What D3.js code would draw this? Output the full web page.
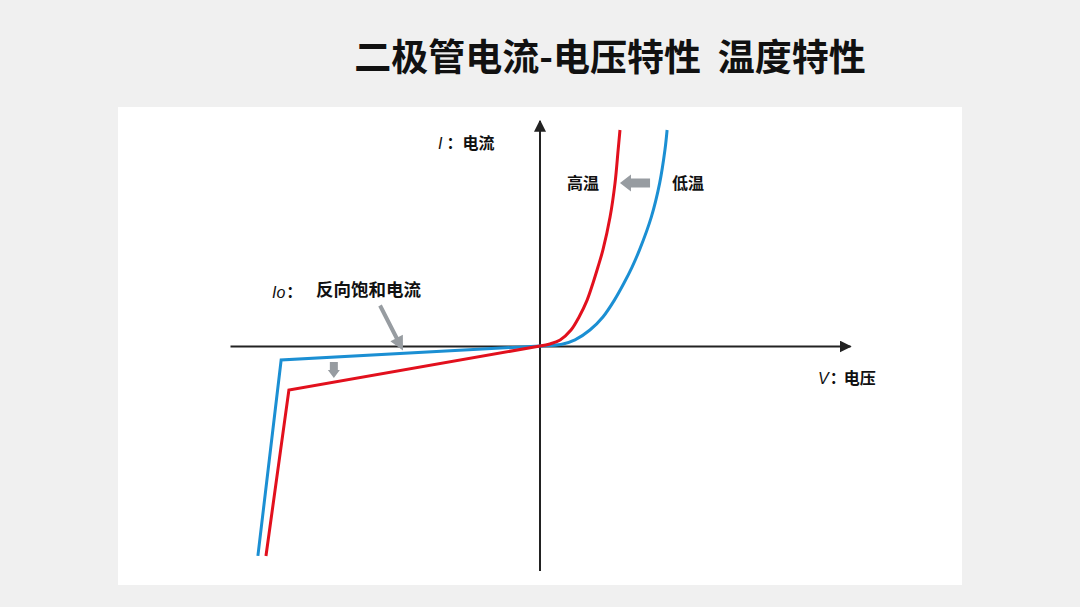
<!DOCTYPE html>
<html>
<head>
<meta charset="utf-8">
<script src="https://cdn.jsdelivr.net/npm/d3@7"></script>
<style>
  html, body { margin: 0; padding: 0; background: #f0f0f0; }
  svg { display: block; }
  text { font-family: "Noto Sans CJK SC", "Noto Sans", sans-serif; fill: #111; white-space: pre; }
  .latin { font-family: "Liberation Sans", "DejaVu Sans", sans-serif; font-style: italic; }
</style>
</head>
<body>
<div id="chart"></div>
<script>
// I-V curves (V, I in arbitrary units, origin = 0,0)
const lowTempReverse = [[-0.91, -0.933], [-0.835, -0.062], [0, 0]];
const lowTempForward = [[0, 0], [0.032, 0.002], [0.074, 0.009], [0.113, 0.027], [0.161, 0.071],
                        [0.203, 0.129], [0.24, 0.204], [0.271, 0.28], [0.297, 0.351], [0.321, 0.427],
                        [0.359, 0.573], [0.386, 0.724], [0.403, 0.871], [0.41, 0.96]];
const highTempReverse = [[-0.884, -0.933], [-0.81, -0.196], [0, 0]];
const highTempForward = [[0, 0], [0.032, 0.009], [0.065, 0.027], [0.1, 0.071], [0.126, 0.129],
                         [0.152, 0.204], [0.171, 0.28], [0.187, 0.351], [0.203, 0.427],
                         [0.226, 0.573], [0.242, 0.724], [0.252, 0.871], [0.258, 0.96]];

const title = "二极管电流-电压特性  温度特性";
const labels = {
  current: "电流",
  voltage: "电压",
  high: "高温",
  low: "低温",
  saturation: "反向饱和电流"
};

const W = 1080, H = 607;
const colors = { low: "#1b8fd3", high: "#e2101d", arrow: "#979ca1", axis: "#222" };

const svg = d3.select("#chart").append("svg")
  .attr("width", W)
  .attr("height", H);

// white panel
svg.append("rect")
  .attr("x", 118).attr("y", 107)
  .attr("width", 844).attr("height", 478)
  .attr("fill", "#fff");

svg.append("text")
  .attr("x", 610).attr("y", 71)
  .attr("text-anchor", "middle")
  .attr("font-size", 37)
  .attr("font-weight", 700)
  .text(title);

// scales
const xScale = d3.scaleLinear().domain([-1, 1]).range([230, 850]);
const yScale = d3.scaleLinear().domain([-1, 1]).range([571, 121]);

const defs = svg.append("defs");
defs.append("marker")
  .attr("id", "axis-head")
  .attr("viewBox", "0 0 10 10")
  .attr("refX", 9).attr("refY", 5)
  .attr("markerWidth", 6).attr("markerHeight", 6)
  .attr("markerUnits", "strokeWidth")
  .attr("orient", "auto")
  .append("path")
  .attr("d", "M0,0 L10,5 L0,10 Z")
  .attr("fill", colors.axis);

// axes (no ticks, just the lines)
const xAxis = d3.axisBottom(xScale).tickValues([]).tickSizeOuter(0);
const yAxis = d3.axisLeft(yScale).tickValues([]).tickSizeOuter(0);

svg.append("g")
  .attr("class", "x-axis")
  .attr("transform", `translate(0,${yScale(0)})`)
  .call(xAxis)
  .select(".domain")
  .attr("stroke", colors.axis)
  .attr("stroke-width", 2)
  .attr("marker-end", "url(#axis-head)");

svg.append("g")
  .attr("class", "y-axis")
  .attr("transform", `translate(${xScale(0)},0)`)
  .call(yAxis)
  .select(".domain")
  .attr("d", `M0,${yScale(-1)}V${yScale(1)}`)
  .attr("stroke", colors.axis)
  .attr("stroke-width", 2)
  .attr("marker-end", "url(#axis-head)");

// curves
const straight = d3.line().x(d => xScale(d[0])).y(d => yScale(d[1]));
const smooth = d3.line().x(d => xScale(d[0])).y(d => yScale(d[1])).curve(d3.curveCatmullRom.alpha(0.5));

const series = [
  { rev: lowTempReverse, fwd: lowTempForward, color: colors.low },
  { rev: highTempReverse, fwd: highTempForward, color: colors.high }
];

series.forEach(s => {
  svg.append("path").attr("d", straight(s.rev))
    .attr("fill", "none").attr("stroke", s.color).attr("stroke-width", 3)
    .attr("stroke-linejoin", "miter");
  svg.append("path").attr("d", smooth(s.fwd))
    .attr("fill", "none").attr("stroke", s.color).attr("stroke-width", 3);
});

// gray block arrow helper: from (x1,y1) to tip (x2,y2), in pixels
function blockArrow(x1, y1, x2, y2, shaft, head, headLen) {
  const len = Math.hypot(x2 - x1, y2 - y1);
  const ang = Math.atan2(y2 - y1, x2 - x1) * 180 / Math.PI;
  const b = len - headLen;
  const p = [
    [0, -shaft / 2], [b, -shaft / 2], [b, -head / 2], [len, 0],
    [b, head / 2], [b, shaft / 2], [0, shaft / 2]
  ];
  svg.append("path")
    .attr("d", "M" + p.map(q => q.join(",")).join("L") + "Z")
    .attr("fill", colors.arrow)
    .attr("transform", `translate(${x1},${y1}) rotate(${ang})`);
}

// temperature shift arrow (low -> high)
blockArrow(xScale(0.355), yScale(0.724), xScale(0.258), yScale(0.724), 9, 17, 11);
// reverse current shift arrow (down)
blockArrow(xScale(-0.665), yScale(-0.071), xScale(-0.665), yScale(-0.142), 8, 12, 8);
// pointer to reverse saturation current
blockArrow(xScale(-0.516), yScale(0.18), xScale(-0.442), yScale(-0.02), 4, 14, 14);

// labels
const fs = 16;
const iLabel = svg.append("text").attr("x", 438).attr("y", 149).attr("font-size", fs);
iLabel.append("tspan").attr("class", "latin").text("I");
iLabel.append("tspan").attr("dx", 4).attr("font-weight", 700).text("：");
iLabel.append("tspan").attr("dx", 0).attr("font-weight", 700).text(labels.current);

svg.append("text").attr("x", 567).attr("y", 189).attr("font-size", fs).attr("font-weight", 700).text(labels.high);
svg.append("text").attr("x", 672).attr("y", 189).attr("font-size", fs).attr("font-weight", 700).text(labels.low);

const ioLabel = svg.append("text").attr("x", 272).attr("y", 298).attr("font-size", fs);
ioLabel.append("tspan").attr("class", "latin").text("Io");
ioLabel.append("tspan").attr("dx", 1).attr("font-weight", 700).text("：");
svg.append("text").attr("x", 316).attr("y", 296).attr("font-size", 17.5).attr("font-weight", 700).text(labels.saturation);

const vLabel = svg.append("text").attr("x", 818).attr("y", 384).attr("font-size", fs);
vLabel.append("tspan").attr("class", "latin").text("V");
vLabel.append("tspan").attr("dx", 1).attr("font-weight", 700).text("：");
vLabel.append("tspan").attr("dx", -2).attr("font-weight", 700).text(labels.voltage);
</script>
</body>
</html>
